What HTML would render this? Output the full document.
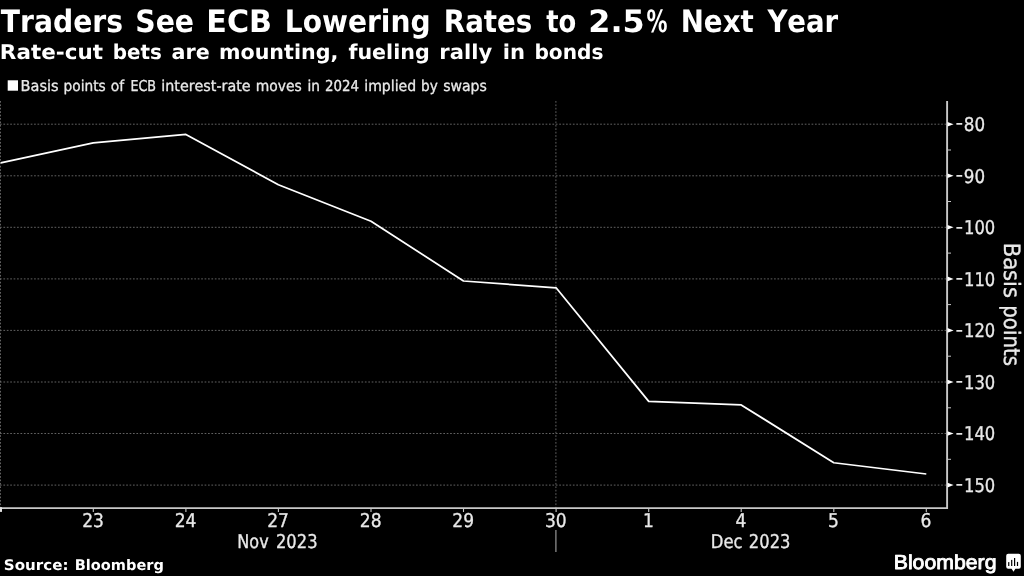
<!DOCTYPE html>
<html lang="en"><head><meta charset="utf-8"><title>Traders See ECB Lowering Rates to 2.5% Next Year</title>
<style>html,body{margin:0;padding:0;background:#000;overflow:hidden}svg{display:block}text{white-space:pre;text-rendering:geometricPrecision;font-kerning:none}.r{stroke:#e9e9e9;stroke-width:.3px;stroke-linejoin:round}</style></head><body>
<svg width="1024" height="576" viewBox="0 0 1024 576">
<rect width="1024" height="576" fill="#000"/>
<text y="32" font-family='"DejaVu Sans Condensed","DejaVu Sans","Liberation Sans",sans-serif' font-size="30.8" font-weight="bold" fill="#fff"><tspan x="0.8" textLength="122.22" lengthAdjust="spacingAndGlyphs">Traders</tspan> <tspan x="135.28" textLength="58.83" lengthAdjust="spacingAndGlyphs">See</tspan> <tspan x="206.38" textLength="65.64" lengthAdjust="spacingAndGlyphs">ECB</tspan> <tspan x="284.81" textLength="145.75" lengthAdjust="spacingAndGlyphs">Lowering</tspan> <tspan x="443.85" textLength="88.5" lengthAdjust="spacingAndGlyphs">Rates</tspan> <tspan x="546.25" textLength="30.05" lengthAdjust="spacingAndGlyphs">to</tspan> <tspan x="588.39" textLength="56.41" lengthAdjust="spacingAndGlyphs">2.5</tspan><tspan x="646.54" textLength="20.98" lengthAdjust="spacingAndGlyphs">%</tspan> <tspan x="680.7" textLength="73.06" lengthAdjust="spacingAndGlyphs">Next</tspan> <tspan x="767.38" textLength="70.84" lengthAdjust="spacingAndGlyphs">Year</tspan></text>
<text y="58.6" font-family='"DejaVu Sans","Liberation Sans",sans-serif' font-size="20.4" font-weight="bold" fill="#fff"><tspan x="-0.18" textLength="103.13" lengthAdjust="spacingAndGlyphs">Rate-cut</tspan> <tspan x="112.85" textLength="49.05" lengthAdjust="spacingAndGlyphs">bets</tspan> <tspan x="171.6" textLength="38.17" lengthAdjust="spacingAndGlyphs">are</tspan> <tspan x="218.99" textLength="119.3" lengthAdjust="spacingAndGlyphs">mounting,</tspan> <tspan x="348.43" textLength="81.22" lengthAdjust="spacingAndGlyphs">fueling</tspan> <tspan x="439.35" textLength="52.78" lengthAdjust="spacingAndGlyphs">rally</tspan> <tspan x="502.75" textLength="22.25" lengthAdjust="spacingAndGlyphs">in</tspan> <tspan x="534.43" textLength="68.98" lengthAdjust="spacingAndGlyphs">bonds</tspan></text>
<rect x="7.7" y="80.3" width="10.3" height="10.4" fill="#fff"/>
<text y="91.4" font-family='"DejaVu Sans Condensed","DejaVu Sans","Liberation Sans",sans-serif' font-size="15" font-weight="normal" fill="#e9e9e9" class="r"><tspan x="20.64" textLength="37.96" lengthAdjust="spacingAndGlyphs">Basis</tspan> <tspan x="63.56" textLength="42.17" lengthAdjust="spacingAndGlyphs">points</tspan> <tspan x="110.88" textLength="13.4" lengthAdjust="spacingAndGlyphs">of</tspan> <tspan x="130.4" textLength="25.63" lengthAdjust="spacingAndGlyphs">ECB</tspan> <tspan x="161.26" textLength="89.35" lengthAdjust="spacingAndGlyphs">interest-rate</tspan> <tspan x="255.69" textLength="46.04" lengthAdjust="spacingAndGlyphs">moves</tspan> <tspan x="307.56" textLength="12.51" lengthAdjust="spacingAndGlyphs">in</tspan> <tspan x="325.07" textLength="34.04" lengthAdjust="spacingAndGlyphs">2024</tspan> <tspan x="364.28" textLength="51.94" lengthAdjust="spacingAndGlyphs">implied</tspan> <tspan x="421.06" textLength="16.79" lengthAdjust="spacingAndGlyphs">by</tspan> <tspan x="443.17" textLength="43.72" lengthAdjust="spacingAndGlyphs">swaps</tspan></text>
<g stroke="#626262" stroke-width="1" stroke-dasharray="1.7 1.71" fill="none"><line x1="0" y1="485.1" x2="946" y2="485.1"/><line x1="0" y1="433.5" x2="946" y2="433.5"/><line x1="0" y1="382.0" x2="946" y2="382.0"/><line x1="0" y1="330.4" x2="946" y2="330.4"/><line x1="0" y1="278.9" x2="946" y2="278.9"/><line x1="0" y1="227.3" x2="946" y2="227.3"/><line x1="0" y1="175.8" x2="946" y2="175.8"/><line x1="0" y1="124.2" x2="946" y2="124.2"/><line x1="0.5" y1="101" x2="0.5" y2="508"/><line x1="555.9" y1="101" x2="555.9" y2="508"/></g>
<g stroke="#c8c8c8" fill="none">
<line x1="947.1" y1="101" x2="947.1" y2="509.1" stroke-width="1.9"/>
<line x1="0" y1="508.15" x2="948" y2="508.15" stroke-width="1.9"/>
<rect x="0" y="507.2" width="2" height="4.7" fill="#e0e0e0" stroke="none"/>
<line x1="93.3" y1="508" x2="93.3" y2="512" stroke-width="1.1"/>
<line x1="185.9" y1="508" x2="185.9" y2="512" stroke-width="1.1"/>
<line x1="278.4" y1="508" x2="278.4" y2="512" stroke-width="1.1"/>
<line x1="371.0" y1="508" x2="371.0" y2="512" stroke-width="1.1"/>
<line x1="463.5" y1="508" x2="463.5" y2="512" stroke-width="1.1"/>
<line x1="556.1" y1="508" x2="556.1" y2="512" stroke-width="1.1"/>
<line x1="648.7" y1="508" x2="648.7" y2="512" stroke-width="1.1"/>
<line x1="741.2" y1="508" x2="741.2" y2="512" stroke-width="1.1"/>
<line x1="833.8" y1="508" x2="833.8" y2="512" stroke-width="1.1"/>
<line x1="926.3" y1="508" x2="926.3" y2="512" stroke-width="1.1"/>
<line x1="947" y1="459.3" x2="951" y2="459.3" stroke-width="1"/>
<line x1="947" y1="407.8" x2="951" y2="407.8" stroke-width="1"/>
<line x1="947" y1="356.2" x2="951" y2="356.2" stroke-width="1"/>
<line x1="947" y1="304.6" x2="951" y2="304.6" stroke-width="1"/>
<line x1="947" y1="253.1" x2="951" y2="253.1" stroke-width="1"/>
<line x1="947" y1="201.5" x2="951" y2="201.5" stroke-width="1"/>
<line x1="947" y1="150.0" x2="951" y2="150.0" stroke-width="1"/>
</g>
<line x1="555.9" y1="530" x2="555.9" y2="552" stroke="#8c8c8c" stroke-width="1.3"/>
<path d="M947.5 482.8L953.6 485.1L947.5 487.4Z" fill="#fff"/>
<text y="491.8" font-family='"DejaVu Sans Condensed","DejaVu Sans","Liberation Sans",sans-serif' font-size="19" font-weight="normal" fill="#e9e9e9" class="r"><tspan x="955.7" dy="-1.5" textLength="7.27" lengthAdjust="spacingAndGlyphs">-</tspan><tspan x="963.99" dy="1.5" textLength="31.24" lengthAdjust="spacingAndGlyphs">150</tspan></text>
<path d="M947.5 431.2L953.6 433.5L947.5 435.8Z" fill="#fff"/>
<text y="440.2" font-family='"DejaVu Sans Condensed","DejaVu Sans","Liberation Sans",sans-serif' font-size="19" font-weight="normal" fill="#e9e9e9" class="r"><tspan x="955.7" dy="-1.5" textLength="7.27" lengthAdjust="spacingAndGlyphs">-</tspan><tspan x="963.99" dy="1.5" textLength="31.24" lengthAdjust="spacingAndGlyphs">140</tspan></text>
<path d="M947.5 379.7L953.6 382.0L947.5 384.3Z" fill="#fff"/>
<text y="388.7" font-family='"DejaVu Sans Condensed","DejaVu Sans","Liberation Sans",sans-serif' font-size="19" font-weight="normal" fill="#e9e9e9" class="r"><tspan x="955.7" dy="-1.5" textLength="7.27" lengthAdjust="spacingAndGlyphs">-</tspan><tspan x="963.99" dy="1.5" textLength="31.24" lengthAdjust="spacingAndGlyphs">130</tspan></text>
<path d="M947.5 328.1L953.6 330.4L947.5 332.7Z" fill="#fff"/>
<text y="337.1" font-family='"DejaVu Sans Condensed","DejaVu Sans","Liberation Sans",sans-serif' font-size="19" font-weight="normal" fill="#e9e9e9" class="r"><tspan x="955.7" dy="-1.5" textLength="7.27" lengthAdjust="spacingAndGlyphs">-</tspan><tspan x="963.99" dy="1.5" textLength="31.24" lengthAdjust="spacingAndGlyphs">120</tspan></text>
<path d="M947.5 276.6L953.6 278.9L947.5 281.2Z" fill="#fff"/>
<text y="285.6" font-family='"DejaVu Sans Condensed","DejaVu Sans","Liberation Sans",sans-serif' font-size="19" font-weight="normal" fill="#e9e9e9" class="r"><tspan x="955.7" dy="-1.5" textLength="7.27" lengthAdjust="spacingAndGlyphs">-</tspan><tspan x="963.99" dy="1.5" textLength="31.24" lengthAdjust="spacingAndGlyphs">110</tspan></text>
<path d="M947.5 225.0L953.6 227.3L947.5 229.6Z" fill="#fff"/>
<text y="234.0" font-family='"DejaVu Sans Condensed","DejaVu Sans","Liberation Sans",sans-serif' font-size="19" font-weight="normal" fill="#e9e9e9" class="r"><tspan x="955.7" dy="-1.5" textLength="7.27" lengthAdjust="spacingAndGlyphs">-</tspan><tspan x="963.99" dy="1.5" textLength="31.24" lengthAdjust="spacingAndGlyphs">100</tspan></text>
<path d="M947.5 173.5L953.6 175.8L947.5 178.1Z" fill="#fff"/>
<text y="182.5" font-family='"DejaVu Sans Condensed","DejaVu Sans","Liberation Sans",sans-serif' font-size="19" font-weight="normal" fill="#e9e9e9" class="r"><tspan x="955.7" dy="-1.5" textLength="7.27" lengthAdjust="spacingAndGlyphs">-</tspan><tspan x="963.83" dy="1.5" textLength="21.33" lengthAdjust="spacingAndGlyphs">90</tspan></text>
<path d="M947.5 121.9L953.6 124.2L947.5 126.5Z" fill="#fff"/>
<text y="130.9" font-family='"DejaVu Sans Condensed","DejaVu Sans","Liberation Sans",sans-serif' font-size="19" font-weight="normal" fill="#e9e9e9" class="r"><tspan x="955.7" dy="-1.5" textLength="7.27" lengthAdjust="spacingAndGlyphs">-</tspan><tspan x="963.83" dy="1.5" textLength="21.33" lengthAdjust="spacingAndGlyphs">80</tspan></text>
<text x="93.0" y="527" font-family='"DejaVu Sans Condensed","DejaVu Sans","Liberation Sans",sans-serif' font-size="19" font-weight="normal" fill="#e9e9e9" text-anchor="middle" class="r">23</text>
<text x="185.6" y="527" font-family='"DejaVu Sans Condensed","DejaVu Sans","Liberation Sans",sans-serif' font-size="19" font-weight="normal" fill="#e9e9e9" text-anchor="middle" class="r">24</text>
<text x="278.1" y="527" font-family='"DejaVu Sans Condensed","DejaVu Sans","Liberation Sans",sans-serif' font-size="19" font-weight="normal" fill="#e9e9e9" text-anchor="middle" class="r">27</text>
<text x="370.7" y="527" font-family='"DejaVu Sans Condensed","DejaVu Sans","Liberation Sans",sans-serif' font-size="19" font-weight="normal" fill="#e9e9e9" text-anchor="middle" class="r">28</text>
<text x="463.2" y="527" font-family='"DejaVu Sans Condensed","DejaVu Sans","Liberation Sans",sans-serif' font-size="19" font-weight="normal" fill="#e9e9e9" text-anchor="middle" class="r">29</text>
<text x="555.8" y="527" font-family='"DejaVu Sans Condensed","DejaVu Sans","Liberation Sans",sans-serif' font-size="19" font-weight="normal" fill="#e9e9e9" text-anchor="middle" class="r">30</text>
<text x="648.4" y="527" font-family='"DejaVu Sans Condensed","DejaVu Sans","Liberation Sans",sans-serif' font-size="19" font-weight="normal" fill="#e9e9e9" text-anchor="middle" class="r">1</text>
<text x="740.9" y="527" font-family='"DejaVu Sans Condensed","DejaVu Sans","Liberation Sans",sans-serif' font-size="19" font-weight="normal" fill="#e9e9e9" text-anchor="middle" class="r">4</text>
<text x="833.5" y="527" font-family='"DejaVu Sans Condensed","DejaVu Sans","Liberation Sans",sans-serif' font-size="19" font-weight="normal" fill="#e9e9e9" text-anchor="middle" class="r">5</text>
<text x="926.0" y="527" font-family='"DejaVu Sans Condensed","DejaVu Sans","Liberation Sans",sans-serif' font-size="19" font-weight="normal" fill="#e9e9e9" text-anchor="middle" class="r">6</text>
<text y="548" font-family='"DejaVu Sans Condensed","DejaVu Sans","Liberation Sans",sans-serif' font-size="19" font-weight="normal" fill="#e9e9e9" class="r"><tspan x="237.36" textLength="31.34" lengthAdjust="spacingAndGlyphs">Nov</tspan> <tspan x="275.97" textLength="41.56" lengthAdjust="spacingAndGlyphs">2023</tspan></text>
<text y="548" font-family='"DejaVu Sans Condensed","DejaVu Sans","Liberation Sans",sans-serif' font-size="19" font-weight="normal" fill="#e9e9e9" class="r"><tspan x="710.82" textLength="31.84" lengthAdjust="spacingAndGlyphs">Dec</tspan> <tspan x="748.87" textLength="41.56" lengthAdjust="spacingAndGlyphs">2023</tspan></text>
<text y="-1003.9" font-family='"DejaVu Sans Condensed","DejaVu Sans","Liberation Sans",sans-serif' font-size="22.5" font-weight="normal" fill="#e9e9e9" class="r" transform="rotate(90)"><tspan x="242.67" textLength="55.32" lengthAdjust="spacingAndGlyphs">Basis</tspan> <tspan x="305.28" textLength="60.81" lengthAdjust="spacingAndGlyphs">points</tspan></text>
<path d="M0.7 162.8 L93.3 142.8 L185.9 134.4 L278.4 184.7 L371.0 221.2 L463.5 281.0 L556.1 287.8 L648.7 401.4 L741.2 404.9 L833.8 462.75 L926.3 474.0" fill="none" stroke="#fff" stroke-width="1.75" stroke-linejoin="round"/>
<text y="569.8" font-family='"DejaVu Sans","Liberation Sans",sans-serif' font-size="14.6" font-weight="bold" fill="#fff"><tspan x="3.81" textLength="64.65" lengthAdjust="spacingAndGlyphs">Source:</tspan> <tspan x="74.76" textLength="89.08" lengthAdjust="spacingAndGlyphs">Bloomberg</tspan></text>
<text y="569" font-family='"Liberation Sans",sans-serif' font-size="20.2" font-weight="normal" fill="#fff" stroke="#fff" stroke-width="0.85" stroke-linejoin="round"><tspan x="893.74" textLength="102.75" lengthAdjust="spacingAndGlyphs">Bloomberg</tspan></text>
<path d="M1008.2 553.8h10.6a2 2 0 0 1 2 2v11a2 2 0 0 1-2 2h-3.4l-1.9 3-1.9-3h-3.4a2 2 0 0 1-2-2v-11a2 2 0 0 1 2-2z" fill="#fff"/>
<rect x="1008.15" y="562.1" width="1.2" height="3.9" fill="#000"/>
<rect x="1011.10" y="559.9" width="1.2" height="6.1" fill="#000"/>
<rect x="1014.00" y="558" width="1.2" height="8.0" fill="#000"/>
<rect x="1016.90" y="561.9" width="1.2" height="4.1" fill="#000"/>
</svg></body></html>
